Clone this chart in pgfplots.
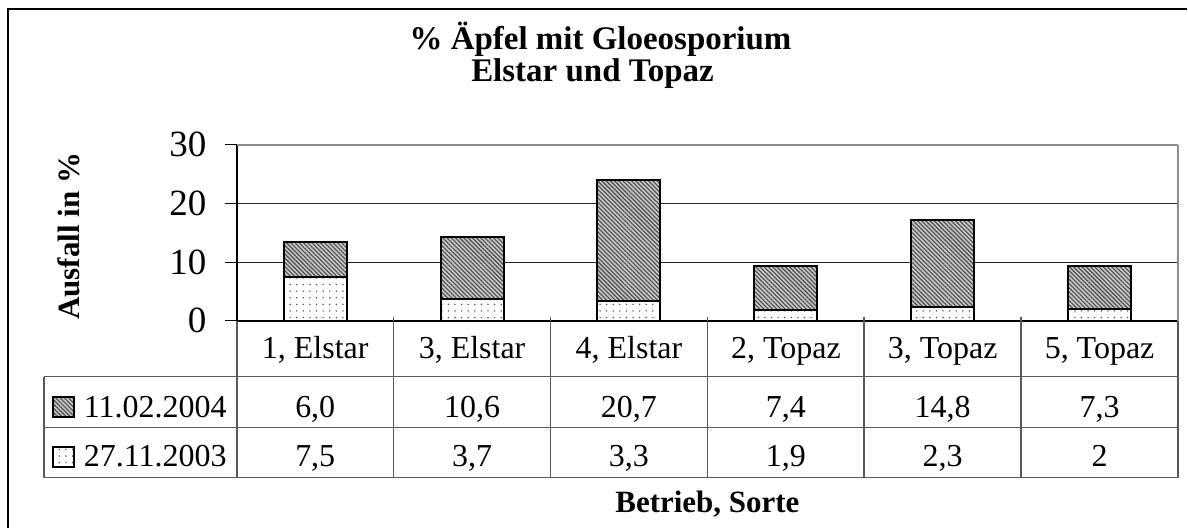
\documentclass[border=0pt]{standalone}
\usepackage{fontspec}
\setmainfont{Liberation Serif}
\usepackage{pgfplots}
\usepackage{pgfplotstable}
\pgfplotsset{compat=1.18}
\usetikzlibrary{patterns.meta}

\pgfplotstableread{
x late early
0 6.0 7.5
1 10.6 3.7
2 20.7 3.3
3 7.4 1.9
4 14.8 2.3
5 7.3 2
}\datatable

\tikzset{
  earlystyle/.style={fill=white, draw=black, line width=1pt,
    postaction={pattern={Dots[distance=3.3pt, radius=0.4pt]}, pattern color=black!70}},
  latestyle/.style={fill=gray!45, draw=black, line width=1pt,
    postaction={pattern={Lines[angle=-45, distance=1.5pt, line width=0.55pt]}, pattern color=black!70}},
  tbl/.style={draw=black!65, line width=0.8pt},
}
\newcommand{\tfont}{\fontsize{16}{19}\selectfont}

\begin{document}
\begin{tikzpicture}
\begin{scope}[xshift=-118.5pt, yshift=160.5pt, x=0.5pt, y=-0.5pt]
\path[use as bounding box] (0,0) rectangle (1188,528);
\end{scope}
\begin{axis}[
  at={(0,0)}, anchor=south west, scale only axis,
  width=471pt, height=88pt,
  xmin=-0.5, xmax=5.5, ymin=0, ymax=30,
  ytick={0,10,20,30}, xtick=\empty,
  ybar stacked, bar width=31.5pt,
  ymajorgrids, grid style={black!85, line width=0.5pt},
  axis x line*=bottom, axis y line*=left,
  axis line style={black, line width=0.8pt, -},
  tick style={black, line width=0.6pt},
  major tick length=6pt, tick align=outside,
  yticklabel style={font=\fontsize{18.5}{20}\selectfont, inner sep=0pt, xshift=-9pt},
  /pgf/number format/assume math mode=true,
  reverse legend,
  legend image code/.code={\draw[#1] (0pt,0pt) rectangle (10.5pt,10pt);},
  legend style={at={(axis description cs:-0.1964,-0.4233)}, anchor=north west,
    draw=none, fill=none, inner sep=0pt, outer sep=0pt, row sep=10.25pt, column sep=4.5pt,
    nodes={inner sep=0pt, text height=11pt, text depth=3.5pt, font=\tfont},
    cells={anchor=base west}},
]
\addplot[earlystyle] table[x=x,y=early]{\datatable};
\addplot[latestyle] table[x=x,y=late]{\datatable};
\legend{27.11.2003, 11.02.2004}
\end{axis}
\begin{scope}[xshift=-118.5pt, yshift=160.5pt, x=0.5pt, y=-0.5pt]
% outer frame
\draw[black, line width=1pt] (8,528) -- (8,9) -- (1188,9);
% plot border top/right
\draw[black!45, line width=1pt] (237,145) -- (1179,145);
\draw[black!45, line width=0.9pt] (1179,145) -- (1179,321);
% table
\foreach \yy in {377,428,478} \draw[tbl] (44,\yy) -- (1179,\yy);
\draw[tbl] (44,377) -- (44,478);
\draw[tbl] (237,321) -- (237,478);
\draw[tbl] (1179,321) -- (1179,478);
\foreach \k in {1,...,5} \draw[tbl] ({237+157*\k},317) -- ({237+157*\k},478);
% titles
\node[font=\bfseries\fontsize{16.5}{19}\selectfont, anchor=base] at (601,50) {\% Äpfel mit Gloeosporium};
\node[font=\bfseries\fontsize{16.5}{19}\selectfont, anchor=base] at (593,82) {Elstar und Topaz};
\node[font=\bfseries\fontsize{15.5}{18}\selectfont, anchor=base, rotate=90] at (80,236.5) {Ausfall in \%};
\node[font=\bfseries\fontsize{15.5}{18}\selectfont, anchor=base] at (708,513) {Betrieb, Sorte};
% category labels
\node[font=\tfont, anchor=base] at (315.5,359.3) {1, Elstar};
\node[font=\tfont, anchor=base] at (472.5,359.3) {3, Elstar};
\node[font=\tfont, anchor=base] at (629.5,359.3) {4, Elstar};
\node[font=\tfont, anchor=base] at (786.5,359.3) {2, Topaz};
\node[font=\tfont, anchor=base] at (943.5,359.3) {3, Topaz};
\node[font=\tfont, anchor=base] at (1100.5,359.3) {5, Topaz};
% values row 1 (11.02.2004)
\node[font=\tfont, anchor=base] at (315.5,417.5) {6,0};
\node[font=\tfont, anchor=base] at (472.5,417.5) {10,6};
\node[font=\tfont, anchor=base] at (629.5,417.5) {20,7};
\node[font=\tfont, anchor=base] at (786.5,417.5) {7,4};
\node[font=\tfont, anchor=base] at (943.5,417.5) {14,8};
\node[font=\tfont, anchor=base] at (1100.5,417.5) {7,3};
% values row 2 (27.11.2003)
\node[font=\tfont, anchor=base] at (315.5,467) {7,5};
\node[font=\tfont, anchor=base] at (472.5,467) {3,7};
\node[font=\tfont, anchor=base] at (629.5,467) {3,3};
\node[font=\tfont, anchor=base] at (786.5,467) {1,9};
\node[font=\tfont, anchor=base] at (943.5,467) {2,3};
\node[font=\tfont, anchor=base] at (1100.5,467) {2};
\end{scope}
\end{tikzpicture}
\end{document}
